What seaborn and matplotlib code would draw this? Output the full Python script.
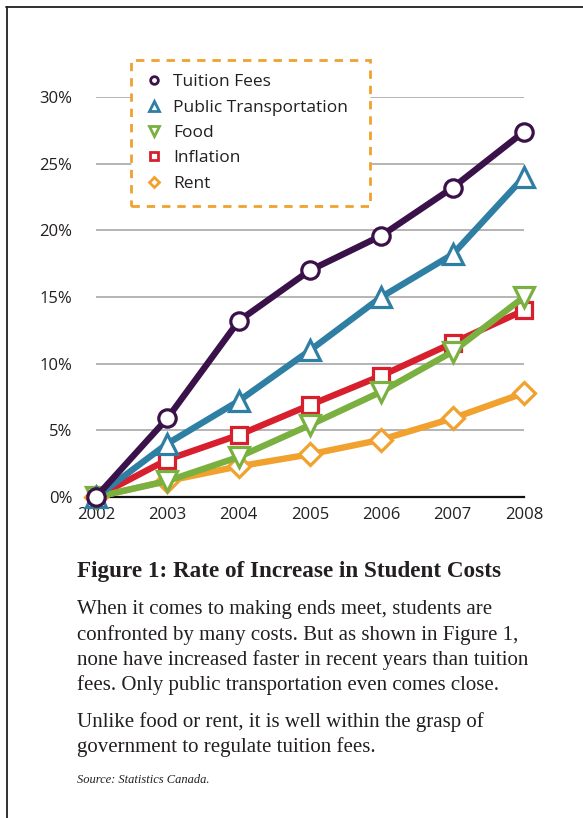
import matplotlib
matplotlib.use("Agg")
import matplotlib.pyplot as plt
import matplotlib.lines as mlines
import seaborn as sns
import pandas as pd

years = [2002, 2003, 2004, 2005, 2006, 2007, 2008]
tuition = [0.0, 5.9, 13.2, 17.0, 19.6, 23.2, 27.4]
transport = [0.0, 4.0, 7.2, 11.0, 15.0, 18.2, 24.0]
food = [0.0, 1.2, 3.0, 5.4, 7.9, 10.9, 15.0]
inflation = [0.0, 2.8, 4.65, 6.9, 9.1, 11.55, 14.0]
rent = [0.0, 1.2, 2.3, 3.2, 4.3, 5.9, 7.8]

series_names = ["Tuition Fees", "Public Transportation", "Food", "Inflation", "Rent"]
series_values = [tuition, transport, food, inflation, rent]
yticks = [0, 5, 10, 15, 20, 25, 30]
ytick_labels = ["0%", "5%", "10%", "15%", "20%", "25%", "30%"]

colors = {"Tuition Fees": "#3b1149", "Public Transportation": "#2e7fa3",
          "Food": "#7ab040", "Inflation": "#d71f2e", "Rent": "#f0a12e"}
markers = {"Tuition Fees": "o", "Public Transportation": "^", "Food": "v",
           "Inflation": "s", "Rent": "D"}
msizes = {"Tuition Fees": 12.5, "Public Transportation": 15, "Food": 15,
          "Inflation": 11.5, "Rent": 11}
draw_order = ["Rent", "Inflation", "Food", "Public Transportation", "Tuition Fees"]

rows = []
for name, vals in zip(series_names, series_values):
    for y, v in zip(years, vals):
        rows.append({"year": y, "value": v, "series": name})
df = pd.DataFrame(rows)

sns.set_style("white")
plt.rcParams["font.family"] = ["Open Sans", "DejaVu Sans"]

W, H = 583, 818
fig = plt.figure(figsize=(W / 100, H / 100), dpi=100)
ax = fig.add_axes([96 / W, (H - 497) / H, (524 - 96) / W, (497 - 97) / H])

for name in draw_order:
    sub = df[df["series"] == name]
    sns.lineplot(data=sub, x="year", y="value", ax=ax, color=colors[name],
                 marker=markers[name], markersize=msizes[name], linewidth=4.6,
                 markerfacecolor="white", markeredgecolor=colors[name],
                 markeredgewidth=2.3, clip_on=False, legend=False)

ax.set_xlim(2002, 2008)
ax.set_ylim(0, 30)
ax.set_xticks(years)
ax.set_xticklabels([str(y) for y in years], fontsize=12, color="#231f20")
ax.set_yticks(yticks)
ax.set_yticklabels(ytick_labels, fontsize=12, color="#231f20")
ax.tick_params(axis="x", length=0, pad=7)
ax.tick_params(axis="y", length=0, pad=17)
for v in yticks[1:]:
    ax.axhline(v, color="#a8a8a8", lw=1.2, zorder=0)
for s in ["top", "right", "left"]:
    ax.spines[s].set_visible(False)
ax.spines["bottom"].set_color("#111111")
ax.spines["bottom"].set_linewidth(1.6)
ax.spines["bottom"].set_zorder(0.5)
ax.set_xlabel("")
ax.set_ylabel("")

handles = [mlines.Line2D([], [], color=colors[n], marker=markers[n], linestyle="none",
                         markersize=6.5 if markers[n] in "^v" else 5.5,
                         markerfacecolor="white", markeredgewidth=2.0)
           for n in series_names]
leg = ax.legend(handles, series_names, loc="upper left",
                bbox_to_anchor=(131 / W, (H - 203) / H, 239 / W, 143 / H),
                bbox_transform=fig.transFigure, mode="expand", borderaxespad=0,
                fontsize=12.5, frameon=True, fancybox=False, handlelength=1.0,
                handletextpad=0.6, labelspacing=0.53, borderpad=0.82)
frame = leg.get_frame()
frame.set_edgecolor("#f0a12e")
frame.set_linestyle((0, (3, 2.5)))
frame.set_linewidth(2.0)
frame.set_facecolor("white")
frame.set_alpha(1)
for t in leg.get_texts():
    t.set_color("#231f20")

# page frame
fig.add_artist(mlines.Line2D([6 / W, 1], [1 - 7 / H, 1 - 7 / H], transform=fig.transFigure,
                             color="#231f20", lw=1.3))
fig.add_artist(mlines.Line2D([7 / W, 7 / W], [1 - 7 / H, 0], transform=fig.transFigure,
                             color="#231f20", lw=1.3))

serif = ["Liberation Serif", "DejaVu Serif"]
tc = "#231f20"
fig.text(77 / W, 1 - 577 / H, "Figure 1: Rate of Increase in Student Costs",
         family=serif, fontweight="bold", fontsize=16.7, color=tc, va="baseline")
body = [
    ("When it comes to making ends meet, students are", 614),
    ("confronted by many costs. But as shown in Figure 1,", 640),
    ("none have increased faster in recent years than tuition", 665),
    ("fees. Only public transportation even comes close.", 690),
    ("Unlike food or rent, it is well within the grasp of", 727),
    ("government to regulate tuition fees.", 752),
]
for txt, yb in body:
    fig.text(77 / W, 1 - yb / H, txt, family=serif, fontsize=15.0, color=tc, va="baseline")
fig.text(77 / W, 1 - 783 / H, "Source: Statistics Canada.", family=serif, style="italic",
         fontsize=9, color=tc, va="baseline")

fig.savefig("out.png", dpi=100)
